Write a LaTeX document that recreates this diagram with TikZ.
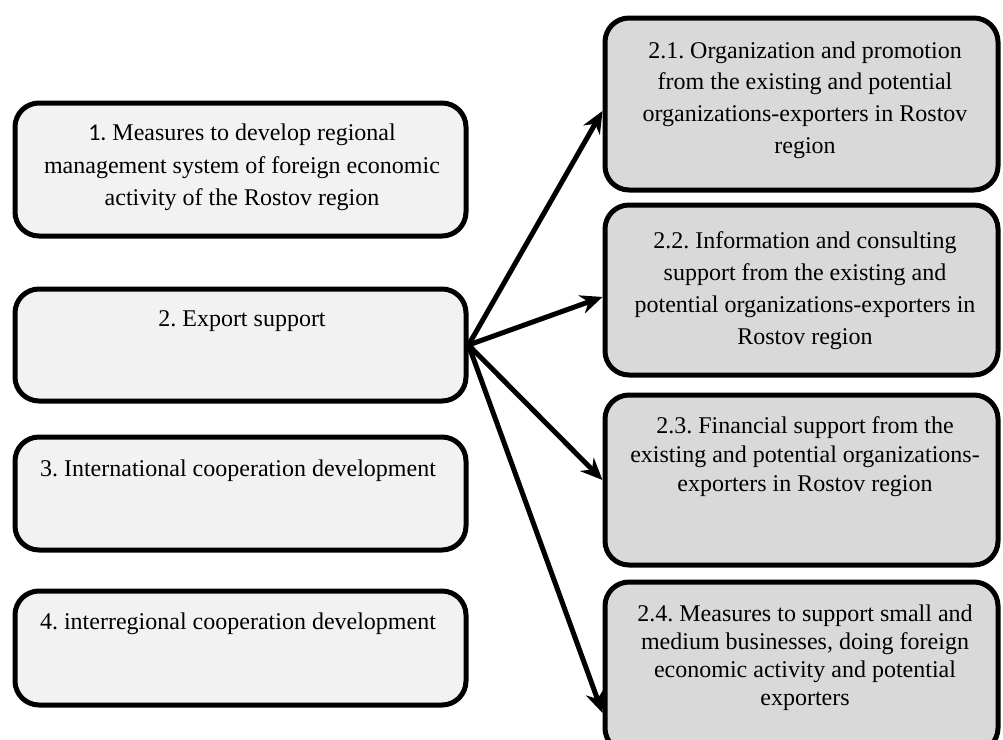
\documentclass[tikz,border=0pt]{standalone}
\usepackage{fontspec}
\setmainfont{Liberation Serif}
\newfontfamily\calibfont{Carlito}
\usetikzlibrary{arrows.meta}
\definecolor{lfill}{HTML}{F2F2F2}
\definecolor{rfill}{HTML}{D9D9D9}
\frenchspacing
\begin{document}
\begin{tikzpicture}[x=1pt,y=-1pt,
  lbox/.style={draw=black, line width=5pt, rounded corners=24pt, fill=lfill, minimum width=451pt, inner sep=0pt},
  rbox/.style={draw=black, line width=5pt, rounded corners=24pt, fill=rfill, minimum width=393pt, inner sep=0pt},
  txt/.style={align=center, inner sep=0pt, anchor=north, font=\fontsize{24}{#1}\selectfont},
  arr/.style={line width=5pt, -{Stealth[length=22pt,width=19pt]}}]
\clip (0,0) rectangle (1003,739);
\useasboundingbox (0,0) rectangle (1003,739);
% left boxes
\node[lbox, minimum height=133pt] (b1) at (240.5,169.5) {};
\node[lbox, minimum height=112pt] (b2) at (240.5,345) {};
\node[lbox, minimum height=113pt] (b3) at (240.5,493.5) {};
\node[lbox, minimum height=114pt] (b4) at (240.5,648) {};
% right boxes
\node[rbox, minimum height=172pt] (b21) at (801.5,104) {};
\node[rbox, minimum height=170pt] (b22) at (801.5,290) {};
\node[rbox, minimum height=170pt] (b23) at (801.5,480) {};
\node[rbox, minimum height=170pt] (b24) at (801.5,667) {};
% texts
\node[txt=32.5] (t1) at (242,118) {\strut{\calibfont 1.} Measures to develop regional\\management system of foreign economic\\activity of the Rostov region};
\node[txt=32] (t2) at (242,303.6) {\strut 2. Export support};
\node[txt=32] (t3) at (238,453.6) {\strut 3. International cooperation development};
\node[txt=32] (t4) at (238,606.6) {\strut 4. interregional cooperation development};
\node[txt=31.7] (t21) at (805,35.8) {\strut 2.1. Organization and promotion\\from the existing and potential\\organizations-exporters in Rostov\\region};
\node[txt=32] (t22) at (805,225.6) {\strut 2.2. Information and consulting\\support from the existing and\\potential organizations-exporters in\\Rostov region};
\node[txt=29] (t23) at (805,412.7) {\strut 2.3. Financial support from the\\existing and potential organizations-\\exporters in Rostov region};
\node[txt=28] (t24) at (805,601.4) {\strut 2.4. Measures to support small and\\medium businesses, doing foreign\\economic activity and potential\\exporters};
% arrows
\draw[arr] (b2.east) -- (b21.182);
\draw[arr] (b2.east) -- (b22.182);
\draw[arr] (b2.east) -- (b23.west);
\draw[arr] (b2.east) -- (b24.193);
\end{tikzpicture}
\end{document}
